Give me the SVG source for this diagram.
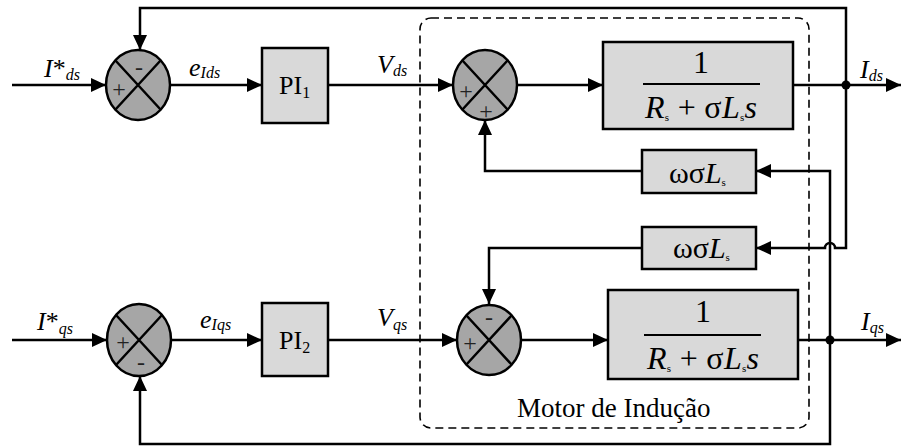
<svg xmlns="http://www.w3.org/2000/svg" width="902" height="447" viewBox="0 0 902 447">
<defs>
<marker id="arr" markerUnits="userSpaceOnUse" markerWidth="16" markerHeight="14" refX="15" refY="7" orient="auto">
<path d="M0,0 L15,7 L0,14 z" fill="#000"/>
</marker>
<style>
.blk{fill:#d9d9d9;stroke:#000;stroke-width:2.5}
.sum{fill:#a6a6a6;stroke:#000;stroke-width:2.5}
.x{stroke:#000;stroke-width:2.5;fill:none}
.ln{stroke:#000;stroke-width:2.5;fill:none}
.arrow{marker-end:url(#arr)}
.t{font-family:"Liberation Serif","Times New Roman",serif;font-size:26px;fill:#000}
.big{font-size:32px}
.w{font-size:30px}
.cap{font-size:27px}
.i{font-style:italic}
.sg{font-family:"Liberation Serif","Times New Roman",serif;font-size:24px;fill:#222;text-anchor:middle}
.sub{font-size:16px}
.tiny{font-size:11px}
</style>
</defs>
<rect width="902" height="447" fill="#fff"/>

<g id="motor-boundary">
<rect x="420" y="18" width="389" height="410" rx="11" ry="11" fill="none" stroke="#000" stroke-width="1.6" stroke-dasharray="8,5"/>
<text class="t cap" x="517" y="417">Motor de Indução</text>
</g>

<g id="connectors">
<path class="ln arrow" d="M12,85 H106"/>
<path class="ln arrow" d="M170,85 H262"/>
<path class="ln arrow" d="M328,85 H453"/>
<path class="ln arrow" d="M517,85 H603"/>
<path class="ln arrow" d="M793,85 H901"/>
<path class="ln arrow" d="M846,85 V8 H140 V50"/>
<path class="ln arrow" d="M846,85 V248 H835 A5,5 0 0 0 825,248 H756"/>
<path class="ln arrow" d="M642,171 H485 V120"/>
<path class="ln arrow" d="M642,248 H489 V304"/>
<path class="ln arrow" d="M12,340 H107"/>
<path class="ln arrow" d="M171,340 H262"/>
<path class="ln arrow" d="M328,340 H457"/>
<path class="ln arrow" d="M521,340 H608"/>
<path class="ln arrow" d="M798,340 H901"/>
<path class="ln arrow" d="M830,340 V171 H756"/>
<path class="ln arrow" d="M830,340 V444 H140 V376"/>
<circle cx="846" cy="85" r="4.5" fill="#000"/>
<circle cx="830" cy="340" r="4.5" fill="#000"/>
</g>

<g id="labels">
<text class="t i" x="44" y="77">I<tspan font-style="normal">*</tspan><tspan class="sub" dy="3">ds</tspan></text>
<text class="t i" x="189" y="76">e<tspan class="sub" dy="2">Ids</tspan></text>
<text class="t i" x="377" y="73">V<tspan class="sub" dy="3">ds</tspan></text>
<text class="t i" x="860" y="78">I<tspan class="sub" dy="3">ds</tspan></text>
<text class="t i" x="37" y="330">I<tspan font-style="normal">*</tspan><tspan class="sub" dy="4">qs</tspan></text>
<text class="t i" x="200" y="328">e<tspan class="sub" dy="2">Iqs</tspan></text>
<text class="t i" x="377" y="326">V<tspan class="sub" dy="4">qs</tspan></text>
<text class="t i" x="861" y="330">I<tspan class="sub" dy="3">qs</tspan></text>
</g>

<g id="sum-d">
<ellipse class="sum" cx="138" cy="85" rx="32" ry="35"/>
<path class="x" d="M115,60 L161,110 M161,60 L115,110"/>
<text class="sg" x="139" y="75">-</text>
<text class="sg" x="119" y="97">+</text>
</g>

<g id="pi1">
<rect class="blk" x="262" y="48" width="66" height="75"/>
<text class="t" x="279" y="94">PI<tspan class="sub" dy="4">1</tspan></text>
</g>

<g id="sum-vd">
<ellipse class="sum" cx="485" cy="85" rx="32" ry="35"/>
<path class="x" d="M462,60 L508,110 M508,60 L462,110"/>
<text class="sg" x="466" y="99">+</text>
<text class="sg" x="486" y="119">+</text>
</g>

<g id="plant-d">
<rect class="blk" x="603" y="42" width="190" height="87"/>
<text class="t big" x="701" y="73" text-anchor="middle">1</text>
<line x1="643" y1="84" x2="760" y2="84" stroke="#000" stroke-width="2"/>
<text class="t big" x="645" y="118" textLength="112" lengthAdjust="spacing"><tspan class="i">R</tspan><tspan class="tiny" dy="3">s</tspan><tspan dy="-3"> + σ</tspan><tspan class="i">L</tspan><tspan class="tiny" dy="3">s</tspan><tspan class="i" dy="-3">s</tspan></text>
</g>

<g id="cross-d">
<rect class="blk" x="642" y="150" width="114" height="43"/>
<text class="t w" x="669" y="183">ωσ<tspan class="i">L</tspan><tspan class="tiny" dy="3">s</tspan></text>
</g>

<g id="cross-q">
<rect class="blk" x="642" y="227" width="114" height="42"/>
<text class="t w" x="673" y="258">ωσ<tspan class="i">L</tspan><tspan class="tiny" dy="3">s</tspan></text>
</g>

<g id="sum-q">
<ellipse class="sum" cx="139" cy="340" rx="32" ry="36"/>
<path class="x" d="M116,315 L162,365 M162,315 L116,365"/>
<text class="sg" x="123" y="350">+</text>
<text class="sg" x="141" y="370">-</text>
</g>

<g id="pi2">
<rect class="blk" x="262" y="303" width="66" height="73"/>
<text class="t" x="279" y="349">PI<tspan class="sub" dy="4">2</tspan></text>
</g>

<g id="sum-vq">
<ellipse class="sum" cx="489" cy="340" rx="32" ry="35"/>
<path class="x" d="M466,315 L512,365 M512,315 L466,365"/>
<text class="sg" x="470" y="351">+</text>
<text class="sg" x="489" y="325">-</text>
</g>

<g id="plant-q">
<rect class="blk" x="608" y="290" width="190" height="89"/>
<text class="t big" x="703" y="322" text-anchor="middle">1</text>
<line x1="644" y1="335" x2="761" y2="335" stroke="#000" stroke-width="2"/>
<text class="t big" x="647" y="369" textLength="112" lengthAdjust="spacing"><tspan class="i">R</tspan><tspan class="tiny" dy="3">s</tspan><tspan dy="-3"> + σ</tspan><tspan class="i">L</tspan><tspan class="tiny" dy="3">s</tspan><tspan class="i" dy="-3">s</tspan></text>
</g>
</svg>
